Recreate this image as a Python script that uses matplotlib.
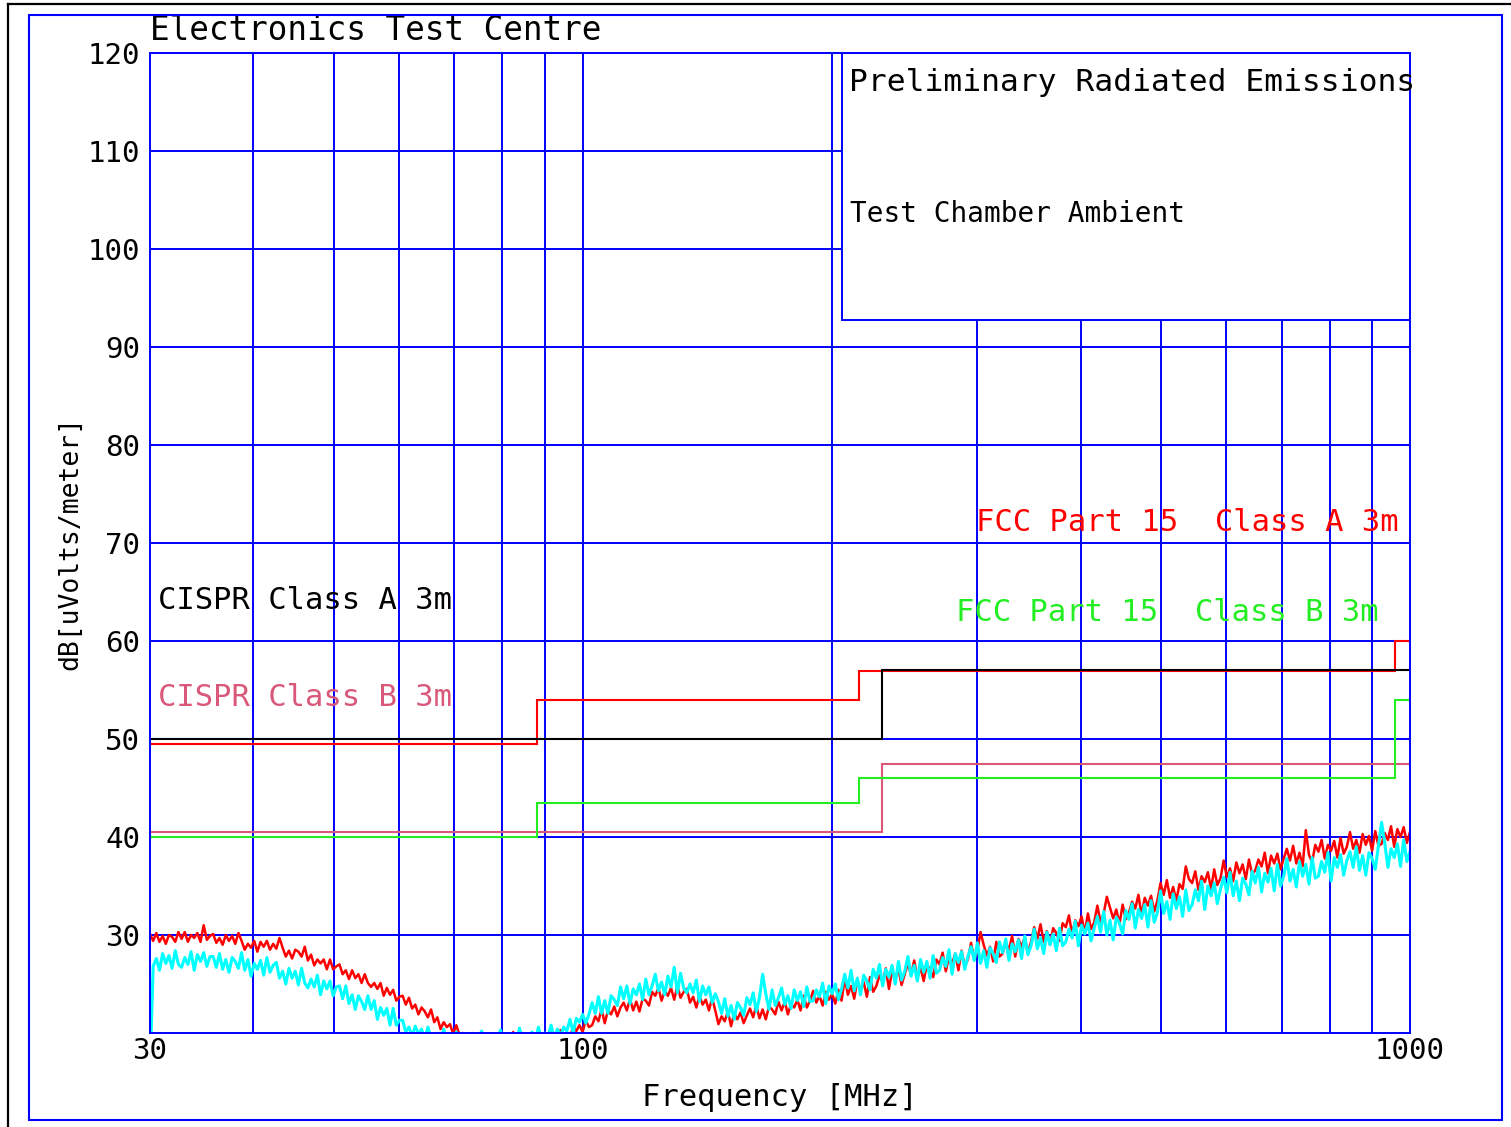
import numpy as np
import matplotlib.pyplot as plt
from matplotlib.patches import Rectangle
from matplotlib.lines import Line2D
from matplotlib.ticker import NullLocator

plt.rcParams['font.family'] = ['DejaVu Sans Mono', 'DejaVu Sans']

BLUE = '#0000ff'
PINK = '#d9587a'
GREEN = '#22ee22'

# axis ticks / grid
freq_ticks = [30, 100, 1000]
freq_tick_labels = ['30', '100', '1000']
freq_grid = [40, 50, 60, 70, 80, 90, 100, 200, 300, 400, 500, 600, 700, 800, 900]
level_ticks = [30, 40, 50, 60, 70, 80, 90, 100, 110, 120]

# limit lines (dBuV/m at 3m)
fcc_edges = [30, 88, 216, 960, 1000]
fcc_a_db = [49.5, 54.0, 56.9, 60.0]
fcc_b_db = [40.0, 43.5, 46.0, 54.0]
cispr_edges = [30, 230, 1000]
cispr_a_db = [50.0, 57.0]
cispr_b_db = [40.5, 47.5]

# ambient sweeps, 400 points log spaced 30-1000 MHz
red_db = [
    30.1, 29.4, 30.2, 29.3, 29.9, 29.1, 30.0, 29.8, 29.3, 30.3,
    29.6, 30.3, 29.3, 30.0, 29.7, 30.2, 29.3, 31.0, 29.5, 29.9,
    30.1, 29.2, 29.7, 29.0, 30.0, 29.4, 29.9, 29.1, 30.2, 29.4,
    28.5, 29.1, 28.7, 29.4, 28.3, 29.3, 28.8, 29.4, 28.5, 29.1,
    28.6, 29.7, 28.7, 27.8, 28.4, 27.6, 28.5, 28.3, 27.8, 28.8,
    27.4, 28.0, 26.9, 27.5, 27.1, 27.5, 26.5, 27.5, 26.5, 26.8,
    27.0, 26.0, 26.4, 25.5, 26.4, 25.6, 26.0, 25.1, 26.0, 25.1,
    24.7, 25.1, 24.5, 25.1, 23.8, 24.6, 23.9, 24.4, 23.3, 23.7,
    23.8, 22.9, 23.6, 22.5, 22.9, 21.9, 22.6, 22.2, 21.6, 22.4,
    21.1, 21.6, 20.4, 21.1, 20.6, 20.9, 19.9, 20.8, 19.8, 20.0,
    19.6, 19.1, 20.0, 19.2, 19.7, 19.0, 19.5, 19.3, 19.8, 19.1,
    19.2, 19.7, 19.0, 19.5, 19.3, 20.1, 19.1, 19.6, 19.2, 19.8,
    19.3, 19.8, 19.1, 19.6, 19.4, 19.9, 19.2, 20.3, 19.5, 19.9,
    20.3, 19.5, 20.1, 19.5, 20.7, 20.2, 20.8, 20.1, 21.3, 20.6,
    20.8, 21.7, 21.2, 22.4, 21.0, 22.3, 21.9, 22.7, 21.7, 22.6,
    23.1, 22.3, 23.5, 22.3, 23.2, 22.2, 23.5, 23.3, 22.8, 24.2,
    23.8, 24.6, 23.3, 24.3, 23.8, 24.6, 23.4, 24.8, 23.6, 24.2,
    24.5, 23.1, 23.7, 22.6, 23.8, 22.9, 23.4, 22.3, 23.6, 22.3,
    20.9, 21.7, 21.2, 22.2, 20.7, 22.0, 21.4, 22.1, 21.0, 21.8,
    22.5, 21.6, 22.8, 21.5, 22.4, 21.4, 22.7, 22.4, 21.9, 23.2,
    22.3, 23.2, 21.9, 23.0, 22.6, 23.4, 22.3, 23.8, 22.6, 23.3,
    24.3, 23.1, 23.8, 22.8, 24.2, 23.4, 24.0, 23.0, 24.4, 23.3,
    25.6, 23.9, 24.8, 23.5, 25.4, 24.3, 25.2, 23.7, 25.7, 24.2,
    24.8, 25.9, 25.2, 26.6, 24.5, 26.3, 25.5, 26.5, 24.9, 26.0,
    27.1, 25.9, 27.4, 25.6, 26.7, 25.3, 27.0, 26.5, 25.7, 27.5,
    27.0, 28.2, 26.3, 27.7, 27.1, 28.1, 26.4, 28.4, 26.8, 27.5,
    29.2, 27.5, 28.4, 30.3, 29.0, 27.9, 28.8, 27.3, 29.3, 27.8,
    28.1, 29.2, 28.5, 29.9, 27.8, 29.6, 28.8, 29.8, 28.2, 29.3,
    30.8, 29.6, 31.1, 29.3, 30.4, 29.0, 30.7, 30.2, 29.4, 31.2,
    30.8, 32.0, 30.1, 31.5, 30.9, 31.9, 30.2, 32.2, 30.6, 31.3,
    33.0, 31.3, 32.2, 33.9, 32.8, 31.7, 32.6, 31.1, 33.1, 31.6,
    32.3, 33.4, 32.7, 34.1, 32.0, 33.8, 33.0, 34.0, 32.4, 33.5,
    35.3, 34.1, 35.6, 33.8, 34.9, 33.5, 35.2, 34.7, 37.0, 35.7,
    35.3, 36.5, 34.6, 36.0, 35.4, 36.4, 34.7, 36.7, 35.1, 35.8,
    37.6, 35.9, 36.8, 35.5, 37.4, 36.3, 37.2, 35.7, 37.7, 36.2,
    36.6, 37.7, 37.0, 38.4, 36.3, 38.1, 37.3, 38.3, 36.7, 37.8,
    38.8, 37.6, 39.1, 37.3, 38.4, 37.0, 40.7, 38.2, 37.4, 39.2,
    38.5, 39.7, 37.8, 39.2, 38.6, 39.6, 37.9, 39.9, 38.3, 39.0,
    40.5, 38.8, 39.7, 38.4, 40.3, 39.2, 40.1, 38.6, 40.6, 39.1,
    39.3, 40.4, 39.7, 41.1, 39.0, 40.8, 40.0, 41.0, 39.4, 40.5,
]

cyan_db = [
    16.0, 26.8, 27.6, 26.4, 28.1, 27.1, 27.9, 26.6, 28.4, 27.0,
    26.7, 27.7, 27.0, 28.3, 26.4, 28.0, 27.3, 28.2, 26.8, 27.8,
    27.8, 26.7, 28.1, 26.5, 27.5, 26.2, 27.7, 27.3, 26.6, 28.2,
    26.4, 27.5, 25.8, 27.1, 26.5, 27.4, 25.9, 27.7, 26.2, 26.9,
    27.2, 25.6, 26.3, 25.0, 26.6, 25.6, 26.3, 24.9, 26.6, 25.1,
    24.6, 25.5, 24.7, 25.9, 23.9, 25.3, 24.5, 25.3, 23.8, 24.7,
    24.8, 23.5, 24.8, 23.0, 23.9, 22.4, 23.8, 23.2, 22.4, 23.8,
    22.4, 23.3, 21.4, 22.6, 21.8, 22.5, 20.8, 22.5, 20.8, 21.3,
    21.3, 20.1, 20.6, 19.7, 20.7, 19.9, 20.4, 19.4, 20.6, 19.5,
    19.3, 19.9, 19.1, 20.4, 19.2, 19.7, 19.0, 20.1, 19.3, 19.6,
    19.2, 19.8, 19.0, 19.5, 19.1, 20.2, 19.3, 19.7, 19.0, 19.6,
    19.4, 20.3, 19.1, 19.7, 19.2, 19.9, 19.0, 20.5, 19.3, 19.8,
    19.5, 20.1, 19.2, 20.6, 19.4, 20.0, 19.6, 20.8, 19.5, 20.4,
    19.7, 20.6, 20.2, 21.4, 20.0, 21.5, 21.1, 21.9, 21.0, 21.9,
    23.1, 22.0, 23.7, 22.0, 23.3, 22.0, 23.8, 23.4, 22.8, 24.7,
    23.5, 24.8, 23.0, 24.5, 23.9, 25.0, 23.4, 25.5, 23.9, 24.8,
    26.0, 24.3, 25.2, 23.9, 25.8, 24.7, 26.7, 24.1, 26.1, 24.6,
    24.1, 25.0, 24.1, 25.4, 23.2, 24.8, 23.9, 24.7, 23.1, 24.0,
    23.2, 22.0, 23.5, 21.7, 22.8, 21.4, 23.1, 22.6, 21.8, 23.6,
    22.9, 24.1, 22.2, 23.6, 26.0, 24.0, 22.4, 24.4, 22.8, 23.6,
    24.6, 22.9, 23.8, 22.5, 24.4, 23.3, 24.2, 22.7, 24.7, 23.2,
    23.3, 24.4, 23.7, 25.1, 23.0, 24.8, 24.0, 25.0, 23.4, 24.5,
    26.0, 24.6, 26.4, 24.3, 25.6, 23.9, 25.9, 25.3, 24.4, 26.5,
    25.6, 27.0, 24.8, 26.5, 25.7, 26.9, 25.0, 27.3, 25.4, 26.3,
    27.8, 25.8, 26.9, 25.3, 27.5, 26.2, 27.3, 25.6, 27.9, 26.1,
    26.4, 27.7, 26.8, 28.5, 26.0, 28.1, 27.2, 28.3, 26.5, 27.8,
    28.8, 27.4, 29.2, 27.1, 28.4, 26.7, 28.7, 28.1, 27.2, 29.3,
    28.2, 29.6, 27.4, 29.1, 28.3, 29.5, 27.6, 29.9, 28.0, 28.9,
    30.6, 28.6, 29.7, 28.1, 30.3, 29.0, 30.1, 28.4, 30.7, 28.9,
    29.3, 30.6, 29.7, 31.4, 28.9, 31.0, 30.1, 31.2, 29.4, 30.7,
    31.9, 30.3, 32.4, 30.0, 31.5, 29.5, 31.8, 31.2, 30.1, 32.5,
    31.6, 33.2, 30.7, 32.6, 31.7, 33.1, 30.8, 33.5, 31.3, 32.3,
    34.5, 32.2, 33.4, 31.6, 34.2, 32.7, 33.9, 31.9, 34.6, 32.5,
    33.1, 34.6, 33.5, 35.5, 32.6, 35.0, 34.0, 35.3, 33.2, 34.7,
    35.9, 34.3, 36.4, 34.0, 35.5, 33.5, 35.8, 35.2, 34.1, 36.5,
    35.3, 36.9, 34.4, 36.3, 35.4, 36.8, 34.5, 37.2, 35.0, 36.0,
    37.8, 35.5, 36.7, 34.9, 37.5, 36.0, 37.2, 35.2, 37.9, 35.8,
    36.0, 37.5, 36.4, 38.4, 35.5, 37.9, 36.9, 38.2, 36.1, 37.6,
    38.5, 36.9, 39.0, 36.6, 38.1, 36.1, 38.4, 37.8, 36.7, 39.1,
    41.5, 39.4, 36.9, 38.8, 37.9, 39.3, 37.0, 39.7, 37.5, 38.5,
]

sweep_mhz = np.geomspace(30, 1000, len(red_db))

fig = plt.figure(figsize=(15.11, 11.27), dpi=100)
ax = fig.add_axes([150 / 1511, 94 / 1127, 1260 / 1511, 980 / 1127])
ax.set_xscale('log')
ax.set_xlim(30, 1000)
ax.set_ylim(20, 120)

for f in freq_grid:
    ax.axvline(f, color=BLUE, lw=1.4, zorder=1)
for v in level_ticks[:-1]:
    ax.axhline(v, color=BLUE, lw=1.4, zorder=1)

ax.plot(sweep_mhz, red_db, color='red', lw=1.8, zorder=2)
ax.plot(sweep_mhz, cyan_db, color='cyan', lw=2.2, zorder=2.1)

ax.stairs(cispr_b_db, cispr_edges, baseline=None, color=PINK, lw=1.5, zorder=3)
ax.stairs(fcc_b_db, fcc_edges, baseline=None, color=GREEN, lw=1.5, zorder=3)
ax.stairs(fcc_a_db, fcc_edges, baseline=None, color='red', lw=1.5, zorder=3)
ax.stairs(cispr_a_db, cispr_edges, baseline=None, color='black', lw=1.5, zorder=3.1)

ax.text(30.7, 64.1, 'CISPR Class A 3m', color='black', fontsize=22, va='center', zorder=3.2)
ax.text(30.7, 54.2, 'CISPR Class B 3m', color=PINK, fontsize=22, va='center', zorder=3.2)
ax.text(299, 72.1, 'FCC Part 15  Class A 3m', color='red', fontsize=22, va='center', zorder=3.2)
ax.text(283, 62.9, 'FCC Part 15  Class B 3m', color=GREEN, fontsize=22, va='center', zorder=3.2)

# caption box in the top right corner
box = Rectangle((0.549, 0.7276), 0.451, 0.2724, transform=ax.transAxes,
                facecolor='white', edgecolor=BLUE, lw=1.4, zorder=4)
ax.add_patch(box)
ax.text(0.5548, 0.9694, 'Preliminary Radiated Emissions', transform=ax.transAxes,
        fontsize=22.5, va='center', ha='left', zorder=5, clip_on=False)
ax.text(0.5556, 0.8357, 'Test Chamber Ambient', transform=ax.transAxes,
        fontsize=20, va='center', ha='left', zorder=5)

ax.text(0, 1 + 22 / 980, 'Electronics Test Centre', transform=ax.transAxes,
        fontsize=23.5, va='center', ha='left')

ax.set_xticks(freq_ticks)
ax.set_xticklabels(freq_tick_labels)
ax.xaxis.set_minor_locator(NullLocator())
ax.set_yticks(level_ticks)
ax.set_yticklabels([str(v) for v in level_ticks])
ax.tick_params(length=0, labelsize=21)
ax.tick_params(axis='x', pad=3)
ax.tick_params(axis='y', pad=7)

for s in ax.spines.values():
    s.set_color(BLUE)
    s.set_linewidth(1.4)
    s.set_zorder(4.5)

ax.set_xlabel('Frequency [MHz]', fontsize=22)
ax.xaxis.set_label_coords(0.5, -64 / 980)
ax.xaxis.label.set_va('center')
ax.set_ylabel('dB[uVolts/meter]', fontsize=19)
ax.yaxis.set_label_coords(-80 / 1260, 0.5)
ax.yaxis.label.set_va('center')

# page frames
fig.add_artist(Line2D([8 / 1511, 8 / 1511], [0, 1 - 4 / 1127], color='black', lw=1.6,
                      transform=fig.transFigure))
fig.add_artist(Line2D([8 / 1511, 1], [1 - 4 / 1127, 1 - 4 / 1127], color='black', lw=1.6,
                      transform=fig.transFigure))
fig.add_artist(Rectangle((29 / 1511, 1 - 1120 / 1127), 1473 / 1511, 1105 / 1127,
                         fill=False, edgecolor=BLUE, lw=1.5, transform=fig.transFigure))

fig.savefig('out.png', dpi=100)
